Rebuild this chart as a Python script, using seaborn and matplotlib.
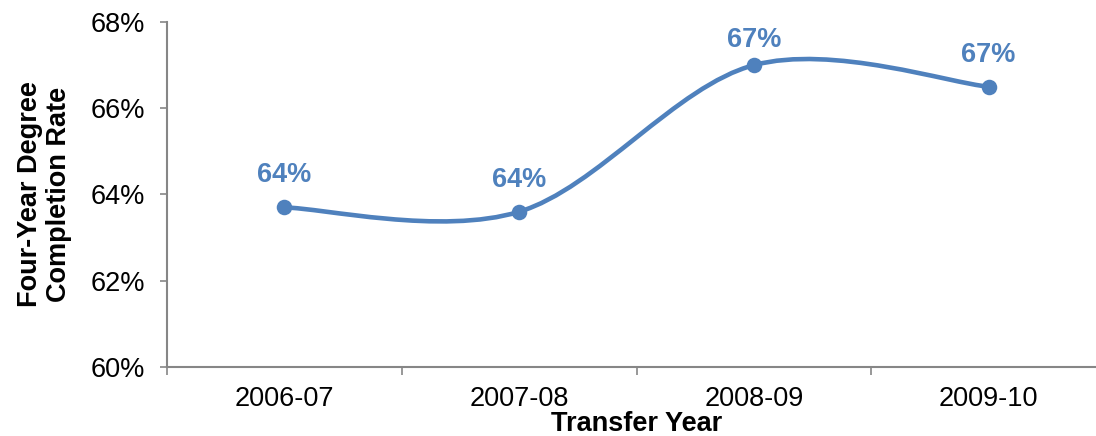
import matplotlib
matplotlib.use("Agg")
import matplotlib.pyplot as plt
from matplotlib.path import Path
from matplotlib.patches import PathPatch
from matplotlib.ticker import FuncFormatter, FixedLocator
import seaborn as sns
import pandas as pd

# data
years = ["2006-07", "2007-08", "2008-09", "2009-10"]
rates = [63.7, 63.6, 67.0, 66.5]
labels = ["64%", "64%", "67%", "67%"]
label_offsets = [23, 23, 18, 23]  # points above marker

BLUE = "#4F81BD"
GREY = "#868686"
FS = 19.5

sns.set_theme(style="white")
plt.rcParams["font.family"] = ["Liberation Sans", "DejaVu Sans"]

df = pd.DataFrame({"year": years, "rate": rates, "pos": range(len(years))})

fig = plt.figure(figsize=(10.96, 4.36), dpi=100)
ax = fig.add_axes([0.1524, 0.1583, 0.8567, 0.7912])


def smooth_path(xs, ys):
    # Excel-style smoothed line: Catmull-Rom as cubic Bezier segments
    pts = list(zip(xs, ys))
    verts = [pts[0]]
    codes = [Path.MOVETO]
    n = len(pts)
    for i in range(n - 1):
        p0 = pts[max(i - 1, 0)]
        p1 = pts[i]
        p2 = pts[i + 1]
        p3 = pts[min(i + 2, n - 1)]
        c1 = (p1[0] + (p2[0] - p0[0]) / 6, p1[1] + (p2[1] - p0[1]) / 6)
        c2 = (p2[0] - (p3[0] - p1[0]) / 6, p2[1] - (p3[1] - p1[1]) / 6)
        verts += [c1, c2, p2]
        codes += [Path.CURVE4] * 3
    return Path(verts, codes)


ax.add_patch(PathPatch(smooth_path(df["pos"], df["rate"]), facecolor="none",
                       edgecolor=BLUE, lw=3.3, capstyle="round", zorder=2))
sns.scatterplot(data=df, x="pos", y="rate", ax=ax, color=BLUE, s=125,
                edgecolor=BLUE, linewidth=0, zorder=3, legend=False)

for x, y, lab, off in zip(df["pos"], df["rate"], labels, label_offsets):
    ax.annotate(lab, (x, y), xytext=(0, off), textcoords="offset points",
                ha="center", va="center", fontsize=FS, fontweight="bold",
                color=BLUE)

ax.set_xlim(-0.5, len(years) - 0.5)
ax.set_ylim(60, 68)
ax.yaxis.set_major_locator(FixedLocator([60, 62, 64, 66, 68]))
ax.yaxis.set_major_formatter(FuncFormatter(lambda v, p: f"{v:.0f}%"))

ax.set_xticks(range(len(years)))
ax.set_xticklabels(years)
ax.xaxis.set_minor_locator(FixedLocator([i - 0.5 for i in range(len(years) + 1)]))
ax.tick_params(axis="x", which="major", length=0, labelsize=FS, pad=14,
               labelcolor="black")
ax.tick_params(axis="x", which="minor", bottom=True, length=6, width=1.2,
               color=GREY, direction="out")
ax.tick_params(axis="y", which="major", left=True, length=5, width=1.2,
               color=GREY, direction="out", labelsize=FS, pad=11,
               labelcolor="black")

for side in ["top", "right"]:
    ax.spines[side].set_visible(False)
for side in ["left", "bottom"]:
    ax.spines[side].set_color(GREY)
    ax.spines[side].set_linewidth(1.5)

ax.set_xlabel("Transfer Year", fontsize=FS, fontweight="bold", color="black",
              labelpad=-1)
ax.set_ylabel("Four-Year Degree\nCompletion Rate", fontsize=FS,
              fontweight="bold", color="black", linespacing=1.15,
              labelpad=13)
ax.grid(False)

fig.savefig("out.png", dpi=100)
